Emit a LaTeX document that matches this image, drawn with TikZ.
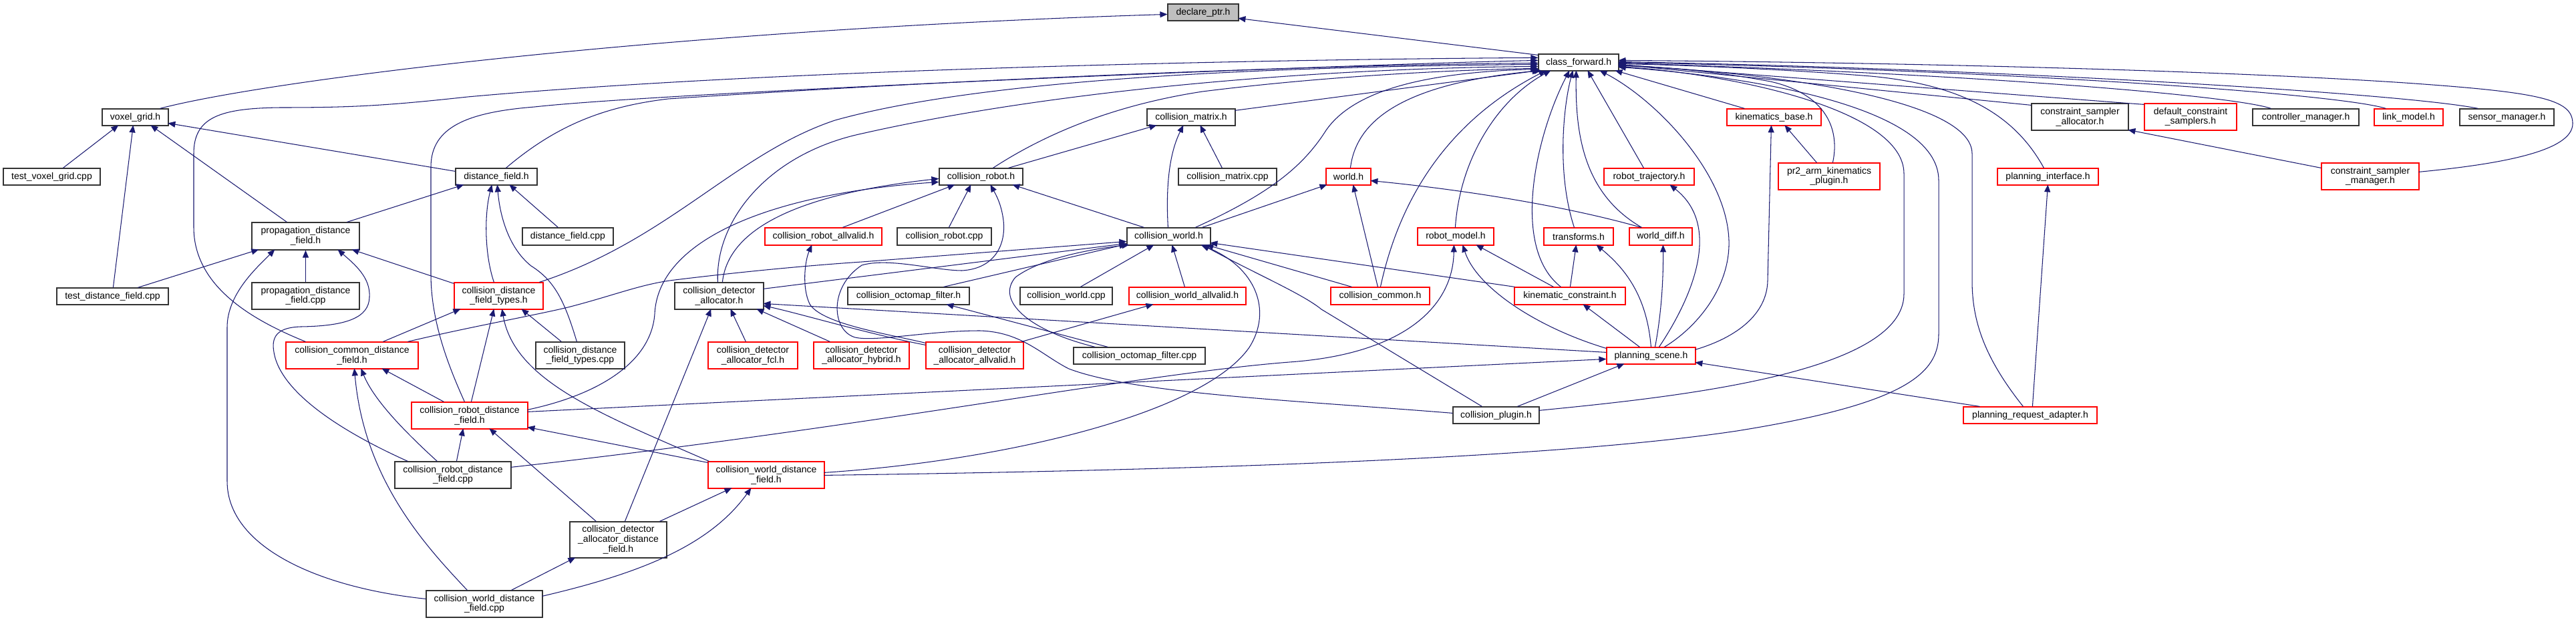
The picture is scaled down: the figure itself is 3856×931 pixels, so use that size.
\documentclass[tikz,border=0pt]{standalone}
\usepackage{fontspec}
\newfontfamily\nf{Liberation Sans}
\usetikzlibrary{arrows.meta,calc}
\definecolor{edgeblue}{HTML}{191970}
\definecolor{nodered}{HTML}{FF0000}
\definecolor{nodegray}{HTML}{BFBFBF}
\definecolor{nodeblack}{HTML}{333333}
\begin{document}
\begin{tikzpicture}[x=1pt,y=-1pt,
  bx/.style={draw=nodeblack,line width=1.2pt,inner sep=0pt,align=center,font=\nf\fontsize{14}{14.7}\selectfont,fill=white},
  rd/.style={bx,draw=nodered},
  gr/.style={bx,fill=nodegray},
  e/.style={draw=edgeblue,line width=1.05pt,-{Triangle[length=11pt,width=9pt]}},
]
\fill[white] (0,0) rectangle (3856,931);
\useasboundingbox (0,0) rectangle (3856,931);
% nodes
\node[gr,minimum width=106pt,minimum height=25pt] (declare) at (1801,18.5) {declare\_ptr.h};
\node[bx,minimum width=120pt,minimum height=25pt] (cf) at (2363,93.5) {class\_forward.h};
\node[bx,minimum width=99pt,minimum height=25pt] (voxel) at (202.5,175.5) {voxel\_grid.h};
\node[bx,minimum width=145pt,minimum height=25pt] (tvg) at (77.5,264.5) {test\_voxel\_grid.cpp};
\node[bx,minimum width=161pt,minimum height=41pt] (pdfh) at (457.5,353.5) {propagation\_distance\\\_field.h};
\node[bx,minimum width=167pt,minimum height=25pt] (tdf) at (168.5,443.5) {test\_distance\_field.cpp};
\node[bx,minimum width=161pt,minimum height=40pt] (pdfc) at (457.5,443) {propagation\_distance\\\_field.cpp};
\node[bx,minimum width=122pt,minimum height=25pt] (dfh) at (743,264.5) {distance\_field.h};
\node[bx,minimum width=136pt,minimum height=26pt] (dfc) at (850,354) {distance\_field.cpp};
\node[rd,minimum width=133pt,minimum height=40pt] (cdft) at (746.5,443) {collision\_distance\\\_field\_types.h};
\node[bx,minimum width=133pt,minimum height=40pt] (cda) at (1076.5,443) {collision\_detector\\\_allocator.h};
\node[rd,minimum width=175pt,minimum height=26pt] (crav) at (1232.5,354) {collision\_robot\_allvalid.h};
\node[bx,minimum width=132pt,minimum height=25pt] (cmh) at (1783,175.5) {collision\_matrix.h};
\node[bx,minimum width=125pt,minimum height=25pt] (crh) at (1468.5,264.5) {collision\_robot.h};
\node[bx,minimum width=147pt,minimum height=25pt] (cmc) at (1837.5,264.5) {collision\_matrix.cpp};
\node[bx,minimum width=141pt,minimum height=26pt] (crc) at (1413.5,354) {collision\_robot.cpp};
\node[bx,minimum width=125pt,minimum height=26pt] (cwh) at (1749.5,354) {collision\_world.h};
\node[bx,minimum width=182pt,minimum height=26pt] (coh) at (1360,443) {collision\_octomap\_filter.h};
\node[bx,minimum width=138pt,minimum height=26pt] (cwc) at (1596,443) {collision\_world.cpp};
\node[rd,minimum width=175pt,minimum height=26pt] (cwav) at (1777.5,443) {collision\_world\_allvalid.h};
\node[rd,minimum width=67pt,minimum height=25pt] (wh) at (2018.5,264.5) {world.h};
\node[rd,minimum width=135pt,minimum height=25pt] (rtraj) at (2468.5,264.5) {robot\_trajectory.h};
\node[rd,minimum width=114pt,minimum height=26pt] (rmod) at (2179,354) {robot\_model.h};
\node[rd,minimum width=104pt,minimum height=26pt] (trf) at (2363,354) {transforms.h};
\node[rd,minimum width=94pt,minimum height=26pt] (wdiff) at (2486,354) {world\_diff.h};
\node[rd,minimum width=148pt,minimum height=26pt] (ccom) at (2066,443) {collision\_common.h};
\node[rd,minimum width=166pt,minimum height=26pt] (kc) at (2350,443) {kinematic\_constraint.h};
\node[rd,minimum width=141pt,minimum height=25pt] (kb) at (2655.5,175.5) {kinematics\_base.h};
\node[rd,minimum width=152pt,minimum height=40pt] (pr2) at (2738,264) {pr2\_arm\_kinematics\\\_plugin.h};
\node[bx,minimum width=145pt,minimum height=40pt] (csa) at (3113.5,175) {constraint\_sampler\\\_allocator.h};
\node[rd,minimum width=151pt,minimum height=25pt] (pif) at (3065.5,264.5) {planning\_interface.h};
\node[rd,minimum width=138pt,minimum height=40pt] (dcs) at (3279,175) {default\_constraint\\\_samplers.h};
\node[bx,minimum width=159pt,minimum height=25pt] (ctrl) at (3451.5,175.5) {controller\_manager.h};
\node[rd,minimum width=103pt,minimum height=25pt] (lm) at (3605.5,175.5) {link\_model.h};
\node[bx,minimum width=141pt,minimum height=25pt] (sm) at (3752.5,175.5) {sensor\_manager.h};
\node[rd,minimum width=146pt,minimum height=40pt] (csm) at (3548,264) {constraint\_sampler\\\_manager.h};
\node[rd,minimum width=198pt,minimum height=40pt] (ccdf) at (527,532) {collision\_common\_distance\\\_field.h};
\node[bx,minimum width=174pt,minimum height=40pt] (crdfc) at (678,711) {collision\_robot\_distance\\\_field.cpp};
\node[bx,minimum width=174pt,minimum height=40pt] (cwdfc) at (725,904) {collision\_world\_distance\\\_field.cpp};
\node[rd,minimum width=174pt,minimum height=40pt] (crdfh) at (703,622) {collision\_robot\_distance\\\_field.h};
\node[bx,minimum width=133pt,minimum height=40pt] (cdftc) at (868.5,532) {collision\_distance\\\_field\_types.cpp};
\node[rd,minimum width=134pt,minimum height=40pt] (cdafcl) at (1127,532) {collision\_detector\\\_allocator\_fcl.h};
\node[rd,minimum width=143pt,minimum height=40pt] (cdahy) at (1289.5,532) {collision\_detector\\\_allocator\_hybrid.h};
\node[rd,minimum width=174pt,minimum height=40pt] (cwdfh) at (1147,711) {collision\_world\_distance\\\_field.h};
\node[bx,minimum width=145pt,minimum height=54pt] (cdadf) at (925.5,808) {collision\_detector\\\_allocator\_distance\\\_field.h};
\node[rd,minimum width=146pt,minimum height=40pt] (cdaav) at (1459,532) {collision\_detector\\\_allocator\_allvalid.h};
\node[bx,minimum width=197pt,minimum height=25pt] (cocpp) at (1705.5,532.5) {collision\_octomap\_filter.cpp};
\node[rd,minimum width=133pt,minimum height=25pt] (ps) at (2471.5,532.5) {planning\_scene.h};
\node[bx,minimum width=129pt,minimum height=25pt] (cplug) at (2239.5,621.5) {collision\_plugin.h};
\node[rd,minimum width=200pt,minimum height=25pt] (pra) at (3039,621.5) {planning\_request\_adapter.h};
% edges
\draw[e] ($(voxel.north west)+(87,0)$) .. controls (400,120) and (1000,45) .. ($(declare.north west)+(0,16)$);
\draw[e] ($(cf.north west)+(0,2)$) -- ($(declare.north west)+(106,22)$);
\draw[e] ($(tvg.north west)+(90,0)$) -- ($(voxel.north west)+(25,25)$);
\draw[e] ($(tdf.north west)+(85,0)$) -- ($(voxel.north west)+(47,25)$);
\draw[e] ($(pdfh.north west)+(53,0)$) -- ($(voxel.north west)+(73,25)$);
\draw[e] ($(dfh.north west)+(0,5)$) -- ($(voxel.north west)+(99,22)$);
\draw[e] ($(pdfh.north west)+(143,0)$) -- ($(dfh.north west)+(13,25)$);
\draw[e] ($(tdf.north west)+(122,0)$) -- ($(pdfh.north west)+(11,41)$);
\draw[e] (pdfc.north) -- (pdfh.south);
\draw[e] ($(cwdfc.north west)+(0,13)$) .. controls (480,880) and (340,820) .. (340,720) -- (340,490) .. controls (340,440) and (385,400) .. ($(pdfh.north west)+(35,41)$);
\draw[e] ($(crdfc.north west)+(20,0)$) .. controls (520,650) and (420,590) .. (410,527) .. controls (405,500) and (420,490) .. (450,489) .. controls (520,488) and (552,475) .. (553,445) .. controls (555,415) and (530,395) .. ($(pdfh.north west)+(129,41)$);
\draw[e] ($(cdft.north west)+(0,2)$) -- ($(pdfh.north west)+(150,41)$);
\draw[e] ($(cdft.north west)+(60,0)$) .. controls (725,380) and (725,320) .. ($(dfh.north west)+(55,25)$);
\draw[e] ($(cdftc.north west)+(62,0)$) .. controls (845,450) and (830,420) .. (795,398) .. controls (760,370) and (748,320) .. ($(dfh.north west)+(63,25)$);
\draw[e] ($(dfc.north west)+(54,0)$) -- ($(dfh.north west)+(81,25)$);
% into class_forward from left
\draw[e] ($(dfh.north west)+(76,0)$) .. controls (830,190) and (900,160) .. (1000,148) .. controls (1500,115) and (2000,97) .. ($(cf.north west)+(0,14)$);
\draw[e] ($(ccdf.north west)+(30,0)$) .. controls (380,480) and (290,430) .. (290,340) -- (290,230) .. controls (290,175) and (330,162) .. (420,161) .. controls (530,161) and (580,158) .. (700,145) .. controls (1200,100) and (2000,88) .. ($(cf.north west)+(0,6)$);
\draw[e] ($(crdfh.north west)+(80,0)$) .. controls (670,545) and (645,480) .. (645,410) -- (645,250) .. controls (645,190) and (700,168) .. (800,160) .. controls (1000,138) and (2000,97) .. ($(cf.north west)+(0,10)$);
\draw[e] ($(cdft.north west)+(128,0)$) .. controls (1000,360) and (1100,230) .. (1250,180) .. controls (1500,110) and (2000,99) .. ($(cf.north west)+(0,16)$);
\draw[e] ($(cda.north west)+(65,0)$) .. controls (1070,330) and (1150,230) .. (1290,200) .. controls (1600,130) and (2000,102) .. ($(cf.north west)+(0,19)$);
\draw[e] ($(crh.north west)+(81,0)$) .. controls (1550,210) and (1650,160) .. (1800,137) .. controls (2000,112) and (2200,104) .. ($(cf.north west)+(0,22)$);
\draw[e] ($(cmh.north west)+(132,3)$) -- ($(cf.north west)+(2,25)$);
\draw[e] ($(cwh.north west)+(103,0)$) .. controls (1900,290) and (1950,250) .. (1985,195) .. controls (2030,130) and (2150,108) .. ($(cf.north west)+(0,23)$);
\draw[e] ($(wh.north west)+(37,0)$) .. controls (2030,180) and (2100,125) .. ($(cf.north west)+(5,25)$);
\draw[e] ($(ccom.north west)+(75,0)$) .. controls (2090,320) and (2150,190) .. ($(cf.north west)+(12,25)$);
\draw[e] ($(rmod.north west)+(57,0)$) .. controls (2185,240) and (2240,150) .. ($(cf.north west)+(19,25)$);
\draw[e] ($(kc.north west)+(70,0)$) .. controls (2260,370) and (2300,200) .. ($(cf.north west)+(47,25)$);
\draw[e] ($(trf.north west)+(46,0)$) .. controls (2330,260) and (2340,160) .. ($(cf.north west)+(52,25)$);
\draw[e] ($(wdiff.north west)+(19,0)$) .. controls (2370,290) and (2358,200) .. ($(cf.north west)+(57,25)$);
\draw[e] ($(rtraj.north west)+(60,0)$) -- ($(cf.north west)+(74,25)$);
\draw[e] ($(ps.north west)+(87,0)$) .. controls (2540,490) and (2590,430) .. (2588,360) .. controls (2585,260) and (2480,150) .. ($(cf.north west)+(92,25)$);
\draw[e] ($(kb.north west)+(27,0)$) -- ($(cf.north west)+(115,25)$);
% into class_forward from right
\draw[e] ($(pr2.north west)+(82,0)$) .. controls (2755,190) and (2730,140) .. (2650,122) .. controls (2560,105) and (2480,100) .. ($(cf.north west)+(120,18)$);
\draw[e] ($(cplug.north west)+(129,6)$) .. controls (2500,595) and (2850,560) .. (2850,440) -- (2850,260) .. controls (2850,165) and (2600,112) .. ($(cf.north west)+(120,19)$);
\draw[e] ($(cwdfh.north west)+(174,21)$) .. controls (1700,705) and (2300,690) .. (2600,645) .. controls (2850,605) and (2902,560) .. (2902,500) -- (2902,270) .. controls (2902,155) and (2600,113) .. ($(cf.north west)+(120,20)$);
\draw[e] ($(pra.north west)+(90,0)$) .. controls (2970,535) and (2952,480) .. (2952,420) -- (2952,230) .. controls (2952,155) and (2700,112) .. ($(cf.north west)+(120,17)$);
\draw[e] ($(pif.north west)+(70,0)$) .. controls (3020,180) and (2950,128) .. (2800,114) .. controls (2650,102) and (2500,97) .. ($(cf.north west)+(120,15)$);
\draw[e] ($(csa.north west)+(0,3)$) -- ($(cf.north west)+(120,16)$);
\draw[e] ($(dcs.north west)+(0,2)$) -- ($(cf.north west)+(120,16)$);
\draw[e] ($(ctrl.north west)+(28,0)$) .. controls (3350,145) and (3000,112) .. ($(cf.north west)+(120,14)$);
\draw[e] ($(lm.north west)+(18,0)$) .. controls (3500,140) and (3000,105) .. ($(cf.north west)+(120,13)$);
\draw[e] ($(sm.north west)+(28,0)$) .. controls (3600,140) and (3000,103) .. ($(cf.north west)+(120,12)$);
\draw[e] ($(csm.north west)+(146,14)$) .. controls (3750,245) and (3851,225) .. (3851,185) .. controls (3851,148) and (3800,138) .. (3600,124) .. controls (3300,104) and (2800,93) .. ($(cf.north west)+(120,10)$);
\draw[e] ($(csm.north west)+(0,8)$) -- ($(csa.north west)+(145,40)$);
\draw[e] ($(pra.north west)+(104,0)$) -- ($(pif.north west)+(76,25)$);
\draw[e] ($(pra.north west)+(25,0)$) -- ($(ps.north west)+(133,23)$);
% collision_world and neighbours
\draw[e] ($(kc.north west)+(1,0)$) -- ($(cwh.north west)+(125,23)$);
\draw[e] ($(ccom.north west)+(32,0)$) -- ($(cwh.north west)+(119,26)$);
\draw[e] ($(cplug.north west)+(44,0)$) -- (1978,463) .. controls (1950,440) and (1880,410) .. ($(cwh.north west)+(113,26)$);
\draw[e] ($(cwdfh.north west)+(174,17)$) .. controls (1500,690) and (1800,620) .. (1870,520) .. controls (1905,465) and (1880,400) .. ($(cwh.north west)+(111,26)$);
\draw[e] ($(ps.north west)+(0,8)$) -- ($(cda.north west)+(133,32)$);
\draw[e] ($(crdfh.north west)+(174,15)$) -- ($(ps.north west)+(0,18)$);
\draw[e] ($(crdfc.north west)+(174,9)$) .. controls (1300,640) and (1700,560) .. (1930,542) .. controls (2100,530) and (2175,460) .. ($(rmod.north west)+(55,26)$);
\draw[e] ($(ps.north west)+(0,2)$) .. controls (2300,490) and (2210,430) .. ($(rmod.north west)+(68,26)$);
\draw[e] ($(kc.north west)+(59,0)$) -- ($(rmod.north west)+(88,26)$);
\draw[e] ($(kc.north west)+(84,0)$) -- ($(trf.north west)+(49,26)$);
\draw[e] ($(ps.north west)+(50,0)$) -- ($(kc.north west)+(103,26)$);
\draw[e] ($(ps.north west)+(67,0)$) .. controls (2465,440) and (2430,400) .. ($(trf.north west)+(79,26)$);
\draw[e] ($(ps.north west)+(73,0)$) .. controls (2485,480) and (2490,430) .. ($(wdiff.north west)+(51,26)$);
\draw[e] ($(ps.north west)+(79,0)$) .. controls (2530,450) and (2580,340) .. ($(rtraj.north west)+(99,25)$);
\draw[e] ($(ps.north west)+(133,4)$) .. controls (2600,505) and (2645,470) .. (2646,420) -- ($(kb.north west)+(67,25)$);
\draw[e] ($(pr2.north west)+(58,0)$) -- ($(kb.north west)+(87,25)$);
\draw[e] ($(wdiff.north west)+(18,0)$) .. controls (2350,310) and (2200,285) .. ($(wh.north west)+(67,19)$);
\draw[e] ($(cwh.north west)+(113,0)$) -- ($(wh.north west)+(2,25)$);
\draw[e] ($(ccom.north west)+(71,0)$) -- ($(wh.north west)+(41,25)$);
\draw[e] ($(cwh.north west)+(26,0)$) -- ($(crh.north west)+(110,25)$);
\draw[e] ($(cwh.north west)+(62,0)$) .. controls (1745,280) and (1750,230) .. ($(cmh.north west)+(55,25)$);
\draw[e] ($(crh.north west)+(104,0)$) -- ($(cmh.north west)+(15,25)$);
\draw[e] ($(cmc.north west)+(66,0)$) -- ($(cmh.north west)+(80,25)$);
\draw[e] ($(crc.north west)+(78,0)$) -- ($(crh.north west)+(48,25)$);
\draw[e] ($(crav.north west)+(117,0)$) -- ($(crh.north west)+(24,25)$);
\draw[e] ($(cda.north west)+(72,0)$) .. controls (1090,340) and (1200,290) .. ($(crh.north west)+(0,16)$);
\draw[e] ($(crdfh.north west)+(174,12)$) .. controls (900,590) and (975,540) .. (980,470) .. controls (985,360) and (1150,290) .. ($(crh.north west)+(0,21)$);
\draw[e] ($(cplug.north west)+(0,10)$) .. controls (1950,600) and (1700,590) .. (1600,552) .. controls (1560,532) and (1530,497) .. (1467,495) .. controls (1390,495) and (1310,512) .. (1280,505) .. controls (1245,495) and (1240,430) .. (1290,397) .. controls (1330,385) and (1400,405) .. (1440,405) .. controls (1490,402) and (1506,365) .. (1502,330) .. controls (1499,305) and (1490,290) .. ($(crh.north west)+(77,25)$);
\draw[e] ($(cdaav.north west)+(0,2)$) .. controls (1330,500) and (1230,485) .. (1212,455) .. controls (1200,430) and (1205,390) .. ($(crav.north west)+(71,26)$);
\draw[e] ($(ccdf.north west)+(183,0)$) .. controls (700,490) and (800,472) .. (850,460) .. controls (920,442) and (960,425) .. (1010,419) .. controls (1100,408) and (1200,398) .. (1290,392) -- ($(cwh.north west)+(0,21)$);
\draw[e] ($(cda.north west)+(133,10)$) -- ($(cwh.north west)+(0,24)$);
\draw[e] ($(coh.north west)+(144,0)$) -- ($(cwh.north west)+(0,25)$);
\draw[e] ($(cocpp.north west)+(33,0)$) .. controls (1540,495) and (1490,450) .. (1520,415) .. controls (1560,385) and (1640,372) .. ($(cwh.north west)+(4,26)$);
\draw[e] ($(cocpp.north west)+(52,0)$) -- ($(coh.north west)+(148,26)$);
\draw[e] ($(cwc.north west)+(91,0)$) -- ($(cwh.north west)+(41,26)$);
\draw[e] ($(cwav.north west)+(84,0)$) -- ($(cwh.north west)+(68,26)$);
\draw[e] ($(cdaav.north west)+(144,0)$) -- ($(cwav.north west)+(37,26)$);
% allocators
\draw[e] ($(cdaav.north west)+(0,5)$) .. controls (1300,500) and (1200,470) .. ($(cda.north west)+(133,35)$);
\draw[e] ($(cdahy.north west)+(25,0)$) -- ($(cda.north west)+(123,40)$);
\draw[e] ($(cdafcl.north west)+(57,0)$) -- ($(cda.north west)+(84,40)$);
\draw[e] ($(cdadf.north west)+(83,0)$) -- ($(cda.north west)+(55,40)$);
\draw[e] ($(cdadf.north west)+(40,0)$) -- ($(crdfh.north west)+(117,40)$);
\draw[e] ($(cdadf.north west)+(135,0)$) -- ($(cwdfh.north west)+(36,40)$);
\draw[e] ($(cwdfc.north west)+(128,0)$) -- ($(cdadf.north west)+(9,54)$);
\draw[e] ($(cwdfc.north west)+(174,9)$) .. controls (950,860) and (1060,820) .. ($(cwdfh.north west)+(65,40)$);
\draw[e] ($(cwdfc.north west)+(62,0)$) .. controls (640,820) and (545,720) .. ($(ccdf.north west)+(103,40)$);
\draw[e] ($(crdfc.north west)+(64,0)$) .. controls (610,650) and (560,600) .. ($(ccdf.north west)+(113,40)$);
\draw[e] ($(crdfh.north west)+(49,0)$) -- ($(ccdf.north west)+(144,40)$);
\draw[e] ($(crdfc.north west)+(93,0)$) -- ($(crdfh.north west)+(78,40)$);
\draw[e] ($(cwdfh.north west)+(0,2)$) -- ($(crdfh.north west)+(174,38)$);
\draw[e] ($(crdfh.north west)+(90,0)$) -- ($(cdft.north west)+(60,40)$);
\draw[e] ($(cwdfh.north west)+(2,0)$) .. controls (900,620) and (770,570) .. ($(cdft.north west)+(72,40)$);
\draw[e] ($(cdftc.north west)+(39,0)$) -- ($(cdft.north west)+(101,40)$);
\draw[e] ($(ccdf.north west)+(146,0)$) -- ($(cdft.north west)+(10,40)$);
\draw[e] ($(cplug.north west)+(97,0)$) -- ($(ps.north west)+(27,25)$);
\end{tikzpicture}
\end{document}
